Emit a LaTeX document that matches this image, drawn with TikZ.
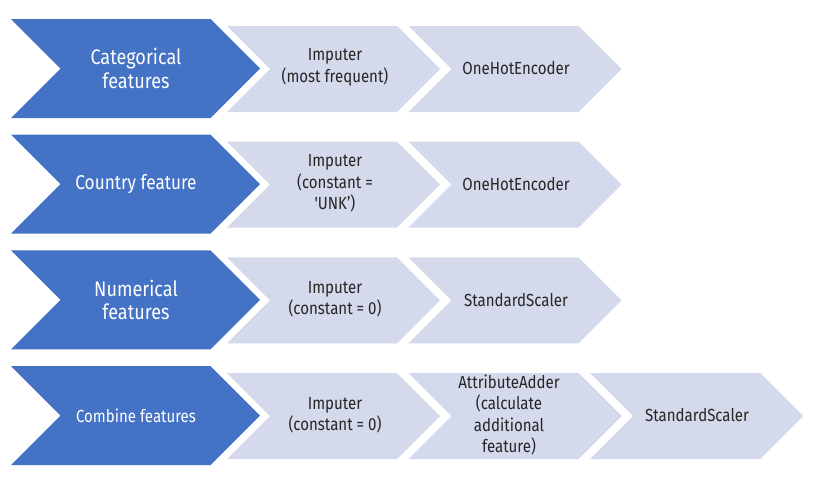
\documentclass[tikz,border=0pt]{standalone}
\usepackage{fontspec}
\setmainfont{Fira Sans}[FakeStretch=0.86]
\newfontfamily\rawquote{Fira Sans}[FakeStretch=0.86, Ligatures=TeXOff]
\definecolor{chevblue}{RGB}{68,114,196}
\definecolor{chevlight}{RGB}{212,217,235}
\definecolor{chevtext}{RGB}{38,38,38}
\tikzset{
  bluetext/.style={text=white, align=center, font=\fontsize{21}{23.5}\selectfont, inner sep=0pt},
  lighttext/.style={text=chevtext, align=center, font=\fontsize{17.5}{21.5}\selectfont, inner sep=0pt},
}
% #1 left x, #2 top y, #3 total width, #4 height, #5 colour
\newcommand\mychevron[5]{%
  \fill[#5] (#1,#2) -- ({#1+#3-#4/2},#2) -- ({#1+#3},{#2+#4/2}) -- ({#1+#3-#4/2},{#2+#4})
    -- (#1,{#2+#4}) -- ({#1+#4/2},{#2+#4/2}) -- cycle;}
\begin{document}
\begin{tikzpicture}[x=1pt,y=-1pt]
\useasboundingbox (0,0) rectangle (816,477);
\fill[white] (0,0) rectangle (816,477);
\foreach \t in {19,134.7,250.3,366}{
  \mychevron{11}{\t}{249}{99}{chevblue}
}
\foreach \t in {26,141.7,257.3,373}{
  \mychevron{227}{\t}{213}{86}{chevlight}
  \mychevron{408.5}{\t}{213}{86}{chevlight}
}
\mychevron{590}{373}{213}{86}{chevlight}
% blue labels
\node[bluetext] (b1) at (136,68.5) {Categorical\\features};
\node[bluetext, font=\fontsize{20}{23}\selectfont] (b2) at (136,184.2) {Country feature};
\node[bluetext] (b3) at (136,299.8) {Numerical\\features};
\node[bluetext, font=\fontsize{17.5}{21}\selectfont] (b4) at (136,415.5) {Combine features};
% row 1
\node[lighttext] (l11) at (335,67.5) {Imputer\\(most frequent)};
\node[lighttext] (l12) at (516,68.5) {OneHotEncoder};
% row 2
\node[lighttext] (l21) at (335,183.7) {Imputer\\(constant =\\{\rawquote\char"0027}UNK’)};
\node[lighttext] (l22) at (516,184.2) {OneHotEncoder};
% row 3
\node[lighttext] (l31) at (335,299.3) {Imputer\\(constant = 0)};
\node[lighttext] (l32) at (516,299.8) {StandardScaler};
% row 4
\node[lighttext] (l41) at (335,415) {Imputer\\(constant = 0)};
\node[lighttext] (l42) at (509,415) {AttributeAdder\\(calculate\\additional\\feature)};
\node[lighttext] (l43) at (697,415) {StandardScaler};
\end{tikzpicture}
\end{document}
